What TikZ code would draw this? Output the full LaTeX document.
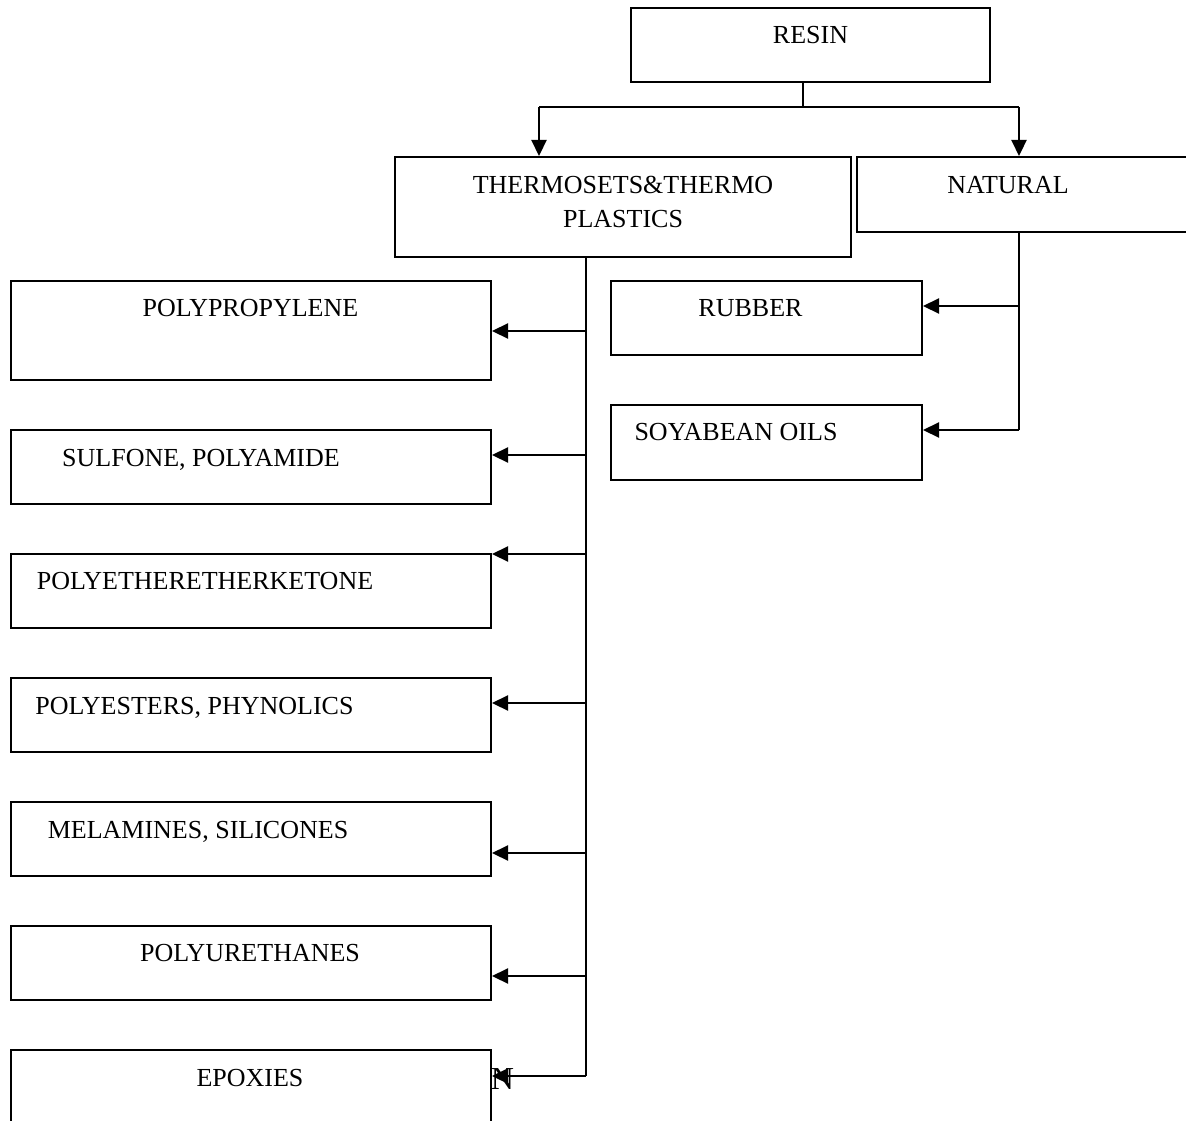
\documentclass[tikz,border=0pt]{standalone}
\usepackage{fontspec}
\setmainfont{Liberation Serif}
\usetikzlibrary{arrows.meta}

\begin{document}
\begin{tikzpicture}[x=1pt, y=-1pt,
    box/.style={draw=borderColour, line width=2pt, fill=white, inner sep=0pt},
    lbl/.style={font=\fontsize{26}{34}\selectfont, inner sep=0pt, align=center, anchor=base},
    link/.style={draw=borderColour, line width=2.2pt},
    arr/.style={link, -{Triangle[length=16pt, width=15pt]}}]
    \definecolor{borderColour}{HTML}{000000}

    % Page frame
    \useasboundingbox (0,0) rectangle (1186,1121);
    \clip (0,0) rectangle (1186,1121);

    % Top level boxes
    \node[box, minimum width=359pt, minimum height=74pt] (resin) at (810.5,45) {};
    \node[box, minimum width=456pt, minimum height=100pt] (tp) at (623,207) {};
    \node[box, minimum width=358pt, minimum height=75pt] (natural) at (1036,194.5) {};

    % Thermosets and thermoplastics column
    \node[box, minimum width=480pt, minimum height=99pt] (poly) at (251,330.5) {};
    \node[box, minimum width=480pt, minimum height=74pt] (sulf) at (251,467) {};
    \node[box, minimum width=480pt, minimum height=74pt] (peek) at (251,591) {};
    \node[box, minimum width=480pt, minimum height=74pt] (pest) at (251,715) {};
    \node[box, minimum width=480pt, minimum height=74pt] (mela) at (251,839) {};
    \node[box, minimum width=480pt, minimum height=74pt] (pure) at (251,963) {};
    \node[box, minimum width=480pt, minimum height=74pt] (epox) at (251,1087) {};

    % Natural column
    \node[box, minimum width=311pt, minimum height=74pt] (rubber) at (766.5,318) {};
    \node[box, minimum width=311pt, minimum height=75pt] (soy) at (766.5,442.5) {};

    % Labels
    \node[lbl] (resin-t) at (810.5,43.5) {RESIN};
    \node[lbl] (tp-t) at (623,227.5) {THERMOSETS\&THERMO\\PLASTICS};
    \node[lbl] (natural-t) at (1008,193.5) {NATURAL};
    \node[lbl] (poly-t) at (250.5,316.5) {POLYPROPYLENE};
    \node[lbl] (sulf-t) at (201,466.5) {SULFONE, POLYAMIDE};
    \node[lbl] (peek-t) at (205,589.5) {POLYETHERETHERKETONE};
    \node[lbl] (pest-t) at (194.5,714.5) {POLYESTERS, PHYNOLICS};
    \node[lbl] (mela-t) at (198,838.5) {MELAMINES, SILICONES};
    \node[lbl] (pure-t) at (250,961.5) {POLYURETHANES};
    \node[lbl] (epox-t) at (250,1086) {EPOXIES};
    \node[lbl, font=\fontsize{32}{38}\selectfont] (stray) at (502.5,1089) {N};
    \node[lbl] (rubber-t) at (750.5,316.5) {RUBBER};
    \node[lbl] (soy-t) at (736,440.5) {SOYABEAN OILS};

    % Fork under resin
    \coordinate (fork) at (803,107);
    \coordinate (fl) at (539,107);
    \coordinate (fr) at (1019,107);
    \draw[link] (resin.south -| fork) -- (fork);
    \draw[link] (fl) -- (fr);
    \draw[arr] (fl) -- (fl |- tp.north);
    \draw[arr] (fr) -- (fr |- natural.north);

    % Left trunk
    \coordinate (lt) at (586,257);
    \coordinate (lb) at (586,1076);
    \draw[link] (lt) -- (lb);
    \foreach \n/\y in {poly/331, sulf/455, peek/554, pest/703, mela/853, pure/976, epox/1076}
        \draw[arr] (586,\y) coordinate (j-\n) -- (\n.east |- j-\n);

    % Right trunk
    \coordinate (rt) at (1019,232);
    \coordinate (rb) at (1019,430);
    \draw[link] (rt) -- (rb);
    \foreach \n/\y in {rubber/306, soy/430}
        \draw[arr] (1019,\y) coordinate (j-\n) -- (\n.east |- j-\n);

\end{tikzpicture}
\end{document}
